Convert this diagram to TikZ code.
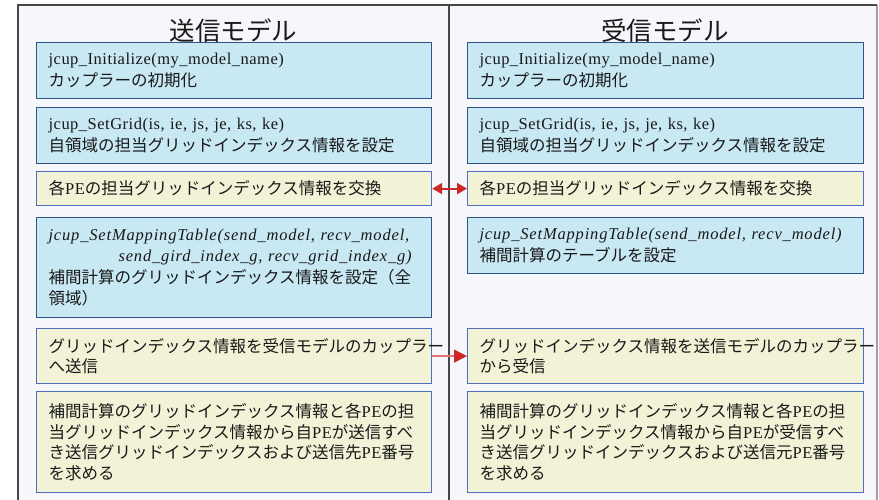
\documentclass[tikz,border=0pt]{standalone}
\usepackage{fontspec}
\setmainfont{Liberation Serif}[LetterSpace=3,ItalicFeatures={LetterSpace=5}]
\newfontfamily\jpfont{Noto Sans CJK JP}
\newcommand{\J}[1]{{\jpfont #1}}
\usetikzlibrary{arrows.meta}
\definecolor{bgc}{RGB}{245,247,250}
\definecolor{framec}{RGB}{70,70,70}
\definecolor{framelight}{RGB}{160,160,165}
\definecolor{bluefill}{RGB}{200,232,244}
\definecolor{bluedraw}{RGB}{45,85,135}
\definecolor{yelfill}{RGB}{242,242,214}
\definecolor{yeldraw}{RGB}{80,110,190}
\definecolor{textc}{RGB}{25,25,25}
\definecolor{arrowred}{RGB}{205,40,40}
\definecolor{lightred}{RGB}{225,115,115}
\tikzset{
  basebox/.style={anchor=north west, line width=1.2pt, inner xsep=12pt, inner ysep=0pt,
    align=left, text=textc, font=\fontsize{16.5}{20.5}\selectfont},
  bluebox/.style={basebox, draw=bluedraw, fill=bluefill},
  yelbox/.style={basebox, draw=yeldraw, fill=yelfill},
  lw/.style={text width=371pt},
  rw/.style={text width=372pt},
  titletext/.style={text=textc, font=\jpfont\fontsize{25.5}{28}\selectfont, inner sep=0pt}
}
\begin{document}
\begin{tikzpicture}[x=1pt,y=-1pt]
\useasboundingbox (0,0) rectangle (879,500);
\fill[white] (0,0) rectangle (879,500);
\fill[bgc] (18,5) rectangle (877,500);
\draw[framelight, line width=1.2pt] (877,5) -- (877,500);
\draw[framec, line width=1.5pt] (18,500) -- (18,5) -- (877,5);
\draw[framec, line width=2pt] (449,5) -- (449,500);

\node[titletext] (tL) at (233.5,31) {送信モデル};
\node[titletext] (tR) at (665,31) {受信モデル};

% left column
\node[bluebox, lw, minimum height=56pt] (L1) at (36,42)
  {jcup\_Initialize(my\_model\_name)\\[2pt]\J{カップラーの初期化}};
\node[bluebox, lw, minimum height=56pt] (L2) at (36,107)
  {jcup\_SetGrid(is, ie, js, je, ks, ke)\\[2pt]\J{自領域の担当グリッドインデックス情報を設定}};
\node[yelbox, lw, minimum height=34pt] (L3) at (36,171)
  {\J{各}PE\J{の担当グリッドインデックス情報を交換}};
\node[bluebox, lw, minimum height=100pt] (L4) at (36,217)
  {\textit{jcup\_SetMappingTable(send\_model, recv\_model,}\\\hspace*{70pt}\textit{send\_gird\_index\_g, recv\_grid\_index\_g)}\\[2pt]\J{補間計算のグリッドインデックス情報を設定（全}\\\J{領域）}};
\node[yelbox, lw, minimum height=55pt] (L5) at (36,328)
  {\J{グリッドインデックス情報を受信モデルのカップラー}\\\J{へ送信}};
\node[yelbox, lw, minimum height=101pt] (L6) at (36,391)
  {\J{補間計算のグリッドインデックス情報と各}PE\J{の担}\\\J{当グリッドインデックス情報から自}PE\J{が送信すべ}\\\J{き送信グリッドインデックスおよび送信先}PE\J{番号}\\\J{を求める}};

% right column
\node[bluebox, rw, minimum height=56pt] (R1) at (467,42)
  {jcup\_Initialize(my\_model\_name)\\[2pt]\J{カップラーの初期化}};
\node[bluebox, rw, minimum height=56pt] (R2) at (467,107)
  {jcup\_SetGrid(is, ie, js, je, ks, ke)\\[2pt]\J{自領域の担当グリッドインデックス情報を設定}};
\node[yelbox, rw, minimum height=34pt] (R3) at (467,171)
  {\J{各}PE\J{の担当グリッドインデックス情報を交換}};
\node[bluebox, rw, minimum height=56pt] (R4) at (467,217)
  {\textit{jcup\_SetMappingTable(send\_model, recv\_model)}\\[2pt]\J{補間計算のテーブルを設定}};
\node[yelbox, rw, minimum height=55pt] (R5) at (467,328)
  {\J{グリッドインデックス情報を送信モデルのカップラー}\\\J{から受信}};
\node[yelbox, rw, minimum height=101pt] (R6) at (467,391)
  {\J{補間計算のグリッドインデックス情報と各}PE\J{の担}\\\J{当グリッドインデックス情報から自}PE\J{が受信すべ}\\\J{き送信グリッドインデックスおよび送信元}PE\J{番号}\\\J{を求める}};

% connectors
\draw[arrowred, line width=2pt, {Triangle[length=10pt,width=11pt]}-{Triangle[length=10pt,width=11pt]}] (L3.east) -- (R3.west);
\draw[lightred, line width=1.5pt, -{Triangle[length=13pt,width=13pt,color=arrowred]}] (L5.east) -- (R5.west);
\end{tikzpicture}
\end{document}
